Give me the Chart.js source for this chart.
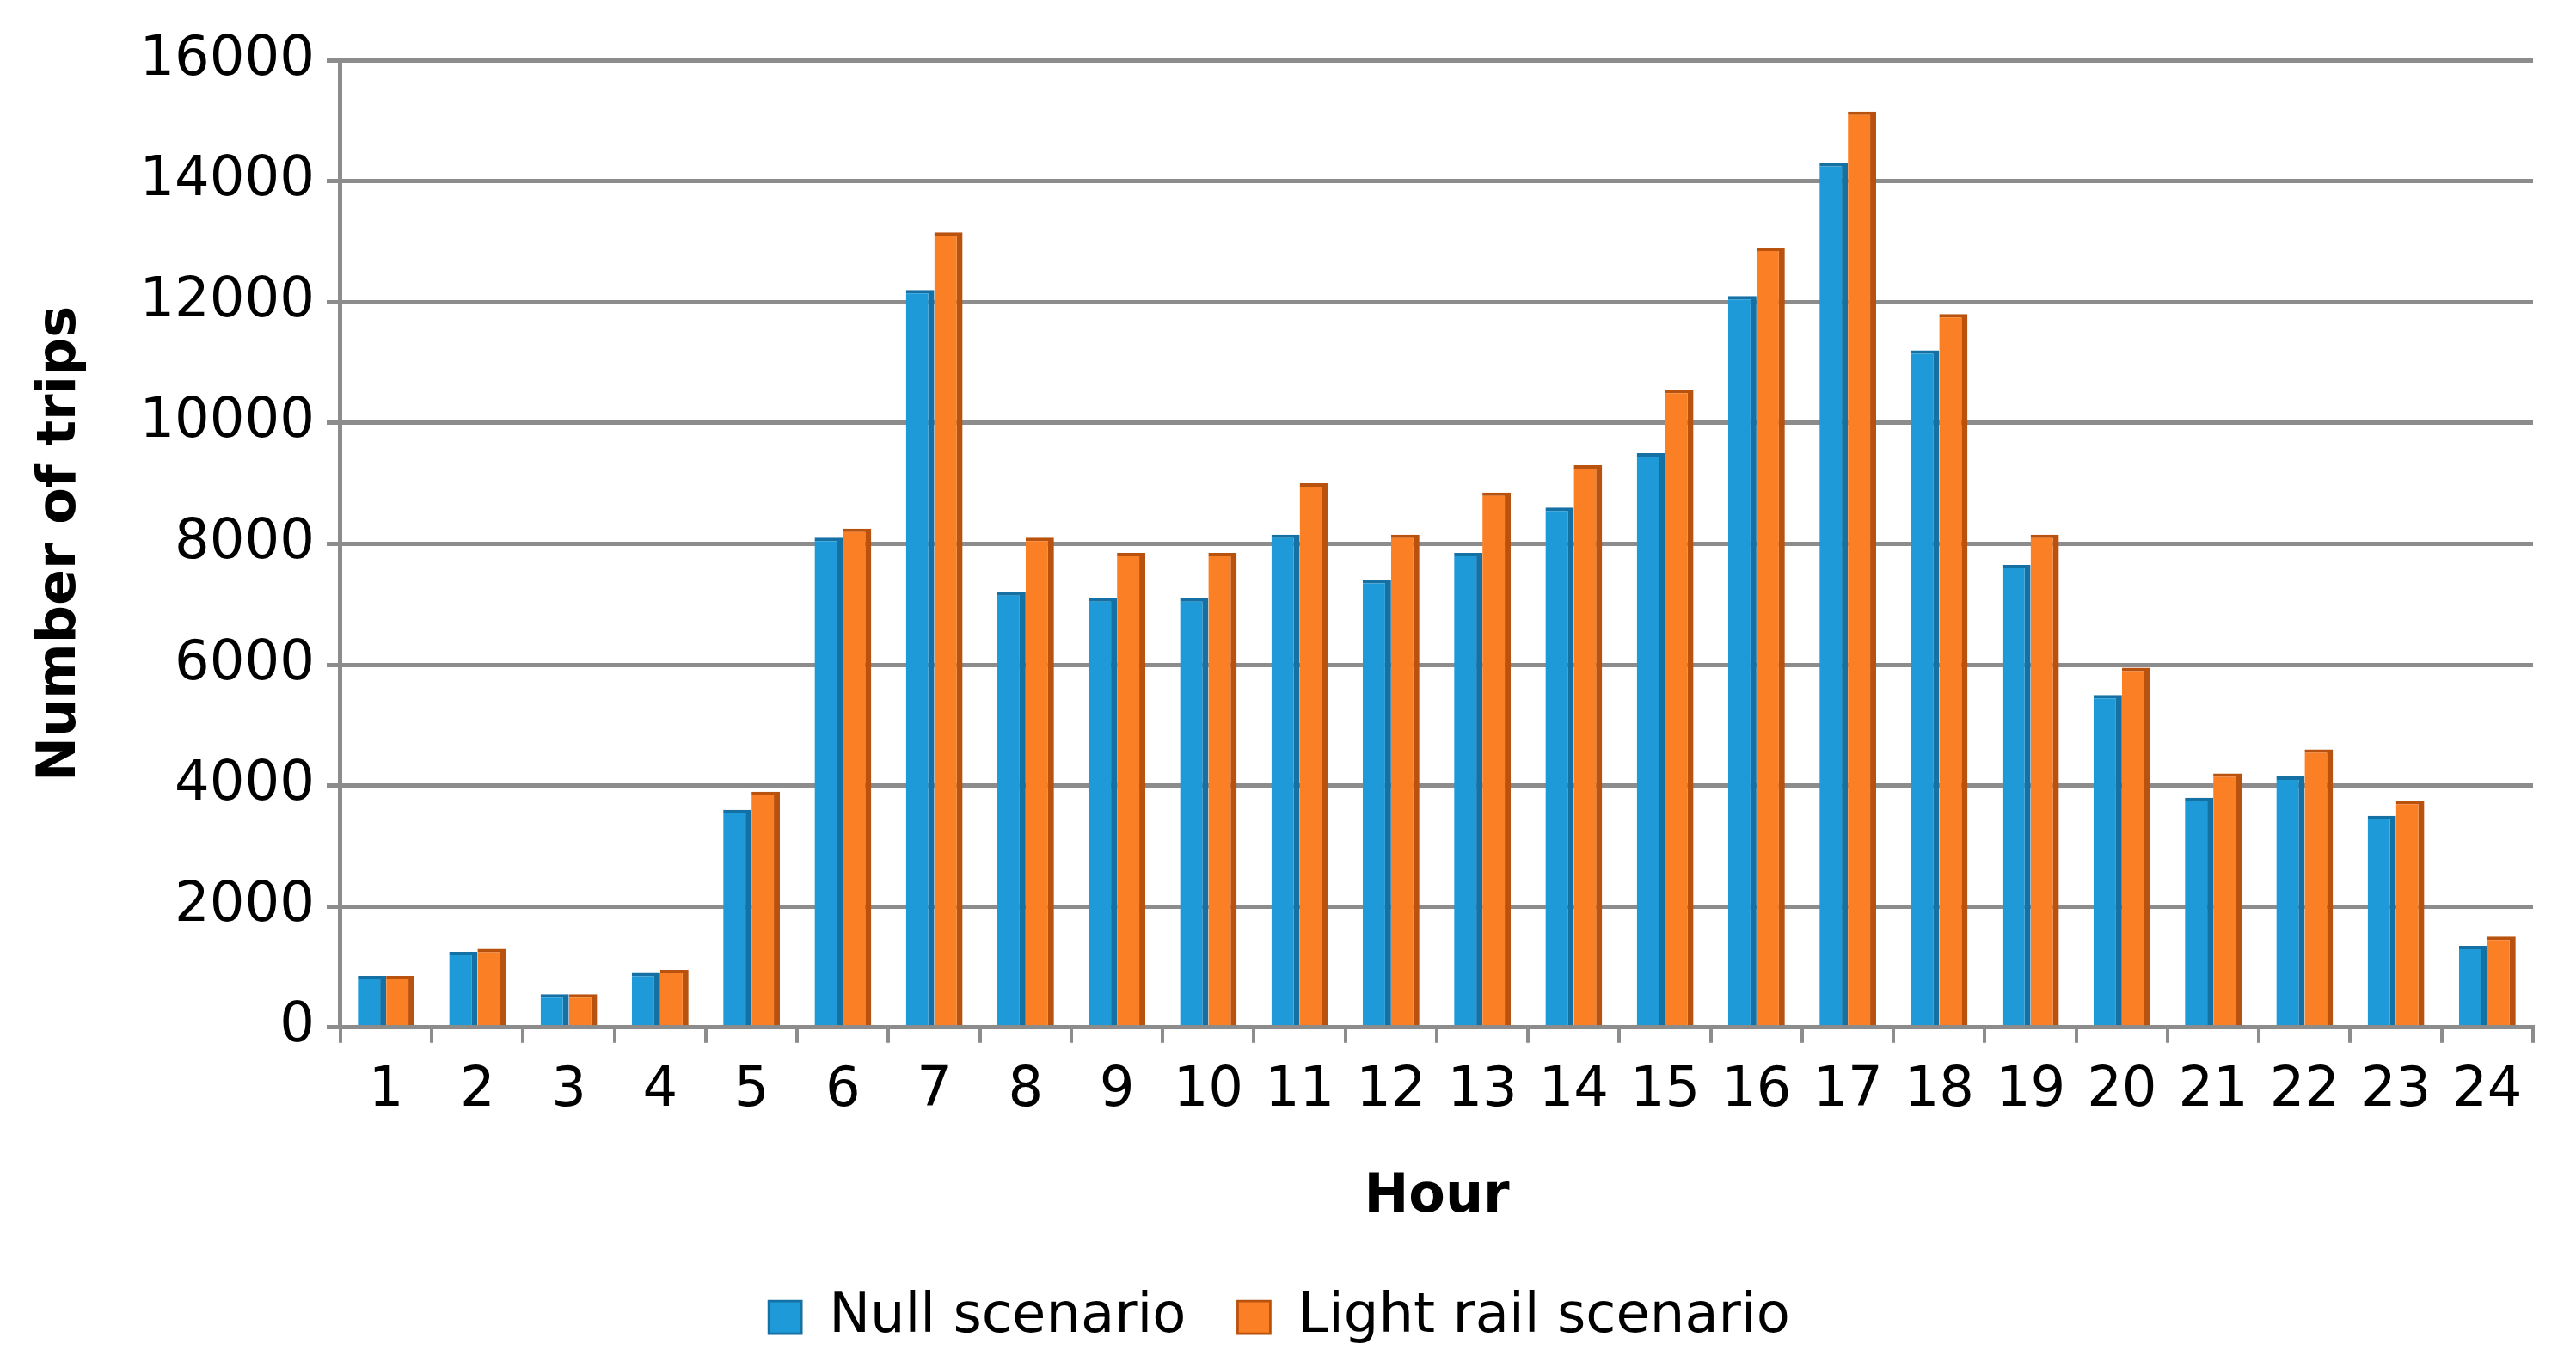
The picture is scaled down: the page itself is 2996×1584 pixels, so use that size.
<!DOCTYPE html>
<html>
<head>
<meta charset="utf-8">
<script src="https://cdn.jsdelivr.net/npm/chart.js@4"></script>
<style>
  html, body { margin: 0; padding: 0; background: #fff; }
  #wrap { width: 2996px; height: 1584px; }
</style>
</head>
<body>
<div id="wrap"><canvas id="c"></canvas></div>
<script>
// Trips per hour
const hours = ['1','2','3','4','5','6','7','8','9','10','11','12','13','14','15','16','17','18','19','20','21','22','23','24'];
const nullScenario = [850, 1250, 550, 900, 3600, 8100, 12200, 7200, 7100, 7100, 8150, 7400, 7850, 8600, 9500, 12100, 14300, 11200, 7650, 5500, 3800, 4150, 3500, 1350];
const lightRail = [850, 1300, 550, 950, 3900, 8250, 13150, 8100, 7850, 7850, 9000, 8150, 8850, 9300, 10550, 12900, 15150, 11800, 8150, 5950, 4200, 4600, 3750, 1500];

const font = 'DejaVu Sans, Verdana, sans-serif';
Chart.defaults.font.family = font;
Chart.defaults.color = '#000';

new Chart(document.getElementById('c'), {
    type: 'bar',
    data: {
        labels: hours,
        datasets: [
            {
                label: 'Null scenario',
                data: nullScenario,
                backgroundColor: '#1f9ad8',
                borderColor: '#1570a3',
                borderWidth: { right: 7, top: 4 },
                borderSkipped: 'bottom'
            },
            {
                label: 'Light rail scenario',
                data: lightRail,
                backgroundColor: '#fb7f24',
                borderColor: '#b8520e',
                borderWidth: { right: 7, top: 4 },
                borderSkipped: 'bottom'
            }
        ]
    },
    options: {
        responsive: true,
        maintainAspectRatio: false,
        animation: false,
        layout: { padding: { left: 30, right: 50, top: 70, bottom: 10 } },
        datasets: { bar: { categoryPercentage: 0.62, barPercentage: 1.0 } },
        plugins: {
            legend: {
                position: 'bottom',
                labels: {
                    boxWidth: 38,
                    boxHeight: 38,
                    padding: 60,
                    font: { size: 64 }
                }
            },
            tooltip: { enabled: false }
        },
        scales: {
            y: {
                min: 0,
                max: 16000,
                ticks: { stepSize: 2000, font: { size: 64 }, padding: 14, callback: v => String(v) },
                grid: { color: '#8c8c8c', lineWidth: 5, tickLength: 16 },
                border: { color: '#8c8c8c', width: 5 },
                title: {
                    display: true,
                    text: 'Number of trips',
                    font: { size: 62, weight: 'bold' },
                    padding: { bottom: 40 }
                }
            },
            x: {
                ticks: { font: { size: 64 }, padding: 18, maxRotation: 0 },
                grid: { display: true, drawOnChartArea: false, color: '#8c8c8c', lineWidth: 4, tickLength: 18, offset: true },
                border: { color: '#8c8c8c', width: 5 },
                title: {
                    display: true,
                    text: 'Hour',
                    font: { size: 62, weight: 'bold' },
                    padding: { top: 30, bottom: 10 }
                }
            }
        }
    }
});
</script>
</body>
</html>
